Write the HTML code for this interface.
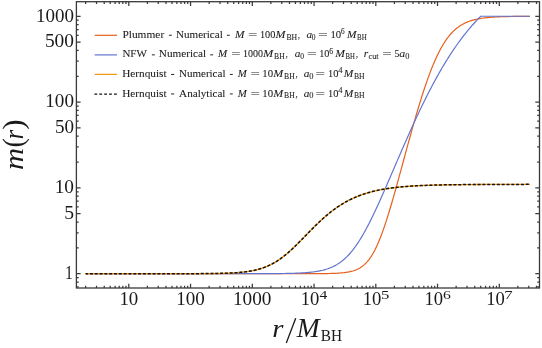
<!DOCTYPE html>
<html><head><meta charset="utf-8"><style>
html,body{margin:0;padding:0;background:#fff;}
svg{display:block}
text{font-family:"Liberation Serif",serif;fill:#1a1a1a}
.i{font-style:italic}
.s{stroke:#1a1a1a;stroke-width:0.07px}
.tk{font-size:18.4px}
</style></head><body>
<svg width="542" height="348" viewBox="0 0 542 348">
<rect width="542" height="348" fill="#fff"/>
<g fill="none" stroke-linejoin="round">
<path d="M85.64,273.70 L86.53,273.70 L87.42,273.70 L88.31,273.70 L89.20,273.70 L90.09,273.70 L90.98,273.70 L91.87,273.70 L92.76,273.70 L93.65,273.70 L94.54,273.70 L95.43,273.70 L96.32,273.70 L97.21,273.70 L98.11,273.70 L99.00,273.70 L99.89,273.70 L100.78,273.70 L101.67,273.70 L102.56,273.70 L103.45,273.70 L104.34,273.70 L105.23,273.70 L106.12,273.70 L107.01,273.70 L107.90,273.70 L108.79,273.70 L109.68,273.70 L110.57,273.70 L111.46,273.70 L112.35,273.70 L113.24,273.70 L114.13,273.70 L115.02,273.70 L115.91,273.70 L116.81,273.70 L117.70,273.70 L118.59,273.70 L119.48,273.70 L120.37,273.70 L121.26,273.70 L122.15,273.70 L123.04,273.70 L123.93,273.70 L124.82,273.70 L125.71,273.70 L126.60,273.70 L127.49,273.70 L128.38,273.70 L129.27,273.70 L130.16,273.70 L131.05,273.70 L131.94,273.70 L132.83,273.70 L133.72,273.70 L134.61,273.70 L135.51,273.70 L136.40,273.70 L137.29,273.70 L138.18,273.70 L139.07,273.70 L139.96,273.70 L140.85,273.70 L141.74,273.70 L142.63,273.70 L143.52,273.70 L144.41,273.70 L145.30,273.70 L146.19,273.70 L147.08,273.70 L147.97,273.70 L148.86,273.70 L149.75,273.70 L150.64,273.70 L151.53,273.70 L152.42,273.70 L153.31,273.70 L154.21,273.70 L155.10,273.70 L155.99,273.70 L156.88,273.70 L157.77,273.70 L158.66,273.70 L159.55,273.70 L160.44,273.70 L161.33,273.70 L162.22,273.70 L163.11,273.70 L164.00,273.70 L164.89,273.70 L165.78,273.70 L166.67,273.70 L167.56,273.70 L168.45,273.70 L169.34,273.70 L170.23,273.70 L171.12,273.70 L172.01,273.70 L172.91,273.70 L173.80,273.70 L174.69,273.70 L175.58,273.70 L176.47,273.70 L177.36,273.70 L178.25,273.70 L179.14,273.70 L180.03,273.70 L180.92,273.70 L181.81,273.70 L182.70,273.70 L183.59,273.70 L184.48,273.70 L185.37,273.70 L186.26,273.70 L187.15,273.70 L188.04,273.70 L188.93,273.70 L189.82,273.70 L190.71,273.70 L191.61,273.70 L192.50,273.70 L193.39,273.70 L194.28,273.70 L195.17,273.70 L196.06,273.70 L196.95,273.70 L197.84,273.70 L198.73,273.70 L199.62,273.70 L200.51,273.70 L201.40,273.70 L202.29,273.70 L203.18,273.70 L204.07,273.70 L204.96,273.70 L205.85,273.70 L206.74,273.70 L207.63,273.70 L208.52,273.70 L209.41,273.70 L210.31,273.70 L211.20,273.70 L212.09,273.70 L212.98,273.70 L213.87,273.70 L214.76,273.70 L215.65,273.70 L216.54,273.70 L217.43,273.70 L218.32,273.70 L219.21,273.70 L220.10,273.70 L220.99,273.70 L221.88,273.70 L222.77,273.70 L223.66,273.70 L224.55,273.70 L225.44,273.70 L226.33,273.70 L227.22,273.70 L228.11,273.70 L229.01,273.70 L229.90,273.70 L230.79,273.70 L231.68,273.70 L232.57,273.70 L233.46,273.70 L234.35,273.70 L235.24,273.70 L236.13,273.70 L237.02,273.70 L237.91,273.70 L238.80,273.70 L239.69,273.70 L240.58,273.70 L241.47,273.70 L242.36,273.70 L243.25,273.70 L244.14,273.70 L245.03,273.70 L245.92,273.70 L246.81,273.70 L247.70,273.70 L248.60,273.70 L249.49,273.70 L250.38,273.70 L251.27,273.70 L252.16,273.70 L253.05,273.70 L253.94,273.70 L254.83,273.70 L255.72,273.70 L256.61,273.70 L257.50,273.70 L258.39,273.70 L259.28,273.70 L260.17,273.70 L261.06,273.70 L261.95,273.70 L262.84,273.70 L263.73,273.70 L264.62,273.70 L265.51,273.70 L266.40,273.70 L267.30,273.70 L268.19,273.70 L269.08,273.70 L269.97,273.70 L270.86,273.70 L271.75,273.70 L272.64,273.70 L273.53,273.70 L274.42,273.70 L275.31,273.70 L276.20,273.70 L277.09,273.70 L277.98,273.70 L278.87,273.70 L279.76,273.70 L280.65,273.70 L281.54,273.70 L282.43,273.70 L283.32,273.70 L284.21,273.70 L285.10,273.70 L286.00,273.70 L286.89,273.70 L287.78,273.70 L288.67,273.70 L289.56,273.70 L290.45,273.70 L291.34,273.70 L292.23,273.70 L293.12,273.70 L294.01,273.70 L294.90,273.70 L295.79,273.70 L296.68,273.69 L297.57,273.69 L298.46,273.69 L299.35,273.69 L300.24,273.69 L301.13,273.69 L302.02,273.69 L302.91,273.69 L303.80,273.69 L304.70,273.69 L305.59,273.69 L306.48,273.68 L307.37,273.68 L308.26,273.68 L309.15,273.68 L310.04,273.68 L310.93,273.67 L311.82,273.67 L312.71,273.67 L313.60,273.66 L314.49,273.66 L315.38,273.66 L316.27,273.65 L317.16,273.65 L318.05,273.64 L318.94,273.64 L319.83,273.63 L320.72,273.62 L321.61,273.61 L322.50,273.60 L323.40,273.59 L324.29,273.58 L325.18,273.57 L326.07,273.56 L326.96,273.54 L327.85,273.53 L328.74,273.51 L329.63,273.49 L330.52,273.47 L331.41,273.44 L332.30,273.41 L333.19,273.38 L334.08,273.35 L334.97,273.32 L335.86,273.28 L336.75,273.23 L337.64,273.18 L338.53,273.13 L339.42,273.07 L340.31,273.00 L341.20,272.93 L342.10,272.85 L342.99,272.76 L343.88,272.67 L344.77,272.56 L345.66,272.44 L346.55,272.32 L347.44,272.17 L348.33,272.02 L349.22,271.85 L350.11,271.66 L351.00,271.45 L351.89,271.22 L352.78,270.97 L353.67,270.70 L354.56,270.40 L355.45,270.07 L356.34,269.71 L357.23,269.32 L358.12,268.89 L359.01,268.42 L359.90,267.91 L360.80,267.35 L361.69,266.75 L362.58,266.09 L363.47,265.38 L364.36,264.61 L365.25,263.78 L366.14,262.88 L367.03,261.92 L367.92,260.88 L368.81,259.77 L369.70,258.58 L370.59,257.30 L371.48,255.95 L372.37,254.51 L373.26,252.98 L374.15,251.37 L375.04,249.67 L375.93,247.87 L376.82,245.99 L377.71,244.02 L378.60,241.96 L379.50,239.82 L380.39,237.59 L381.28,235.28 L382.17,232.88 L383.06,230.41 L383.95,227.87 L384.84,225.26 L385.73,222.57 L386.62,219.83 L387.51,217.03 L388.40,214.17 L389.29,211.25 L390.18,208.29 L391.07,205.29 L391.96,202.24 L392.85,199.16 L393.74,196.05 L394.63,192.90 L395.52,189.73 L396.41,186.54 L397.30,183.32 L398.20,180.09 L399.09,176.84 L399.98,173.59 L400.87,170.32 L401.76,167.05 L402.65,163.78 L403.54,160.50 L404.43,157.23 L405.32,153.96 L406.21,150.70 L407.10,147.44 L407.99,144.19 L408.88,140.96 L409.77,137.74 L410.66,134.54 L411.55,131.36 L412.44,128.19 L413.33,125.05 L414.22,121.94 L415.11,118.85 L416.00,115.78 L416.90,112.75 L417.79,109.75 L418.68,106.79 L419.57,103.86 L420.46,100.96 L421.35,98.11 L422.24,95.30 L423.13,92.53 L424.02,89.81 L424.91,87.13 L425.80,84.50 L426.69,81.92 L427.58,79.39 L428.47,76.92 L429.36,74.50 L430.25,72.13 L431.14,69.82 L432.03,67.57 L432.92,65.37 L433.81,63.24 L434.70,61.16 L435.60,59.15 L436.49,57.19 L437.38,55.30 L438.27,53.47 L439.16,51.70 L440.05,49.99 L440.94,48.34 L441.83,46.75 L442.72,45.22 L443.61,43.75 L444.50,42.34 L445.39,40.98 L446.28,39.69 L447.17,38.44 L448.06,37.26 L448.95,36.12 L449.84,35.04 L450.73,34.00 L451.62,33.02 L452.51,32.08 L453.40,31.19 L454.30,30.34 L455.19,29.54 L456.08,28.77 L456.97,28.05 L457.86,27.36 L458.75,26.71 L459.64,26.10 L460.53,25.51 L461.42,24.96 L462.31,24.44 L463.20,23.95 L464.09,23.49 L464.98,23.05 L465.87,22.64 L466.76,22.25 L467.65,21.88 L468.54,21.54 L469.43,21.22 L470.32,20.91 L471.21,20.62 L472.10,20.35 L473.00,20.10 L473.89,19.86 L474.78,19.64 L475.67,19.43 L476.56,19.23 L477.45,19.04 L478.34,18.87 L479.23,18.70 L480.12,18.55 L481.01,18.41 L481.90,18.27 L482.79,18.14 L483.68,18.02 L484.57,17.91 L485.46,17.81 L486.35,17.71 L487.24,17.62 L488.13,17.53 L489.02,17.45 L489.91,17.38 L490.80,17.31 L491.69,17.24 L492.59,17.18 L493.48,17.12 L494.37,17.06 L495.26,17.01 L496.15,16.96 L497.04,16.92 L497.93,16.88 L498.82,16.84 L499.71,16.80 L500.60,16.77 L501.49,16.73 L502.38,16.70 L503.27,16.68 L504.16,16.65 L505.05,16.63 L505.94,16.60 L506.83,16.58 L507.72,16.56 L508.61,16.54 L509.50,16.52 L510.39,16.51 L511.29,16.49 L512.18,16.48 L513.07,16.46 L513.96,16.45 L514.85,16.44 L515.74,16.43 L516.63,16.42 L517.52,16.41 L518.41,16.40 L519.30,16.39 L520.19,16.38 L521.08,16.37 L521.97,16.37 L522.86,16.36 L523.75,16.35 L524.64,16.35 L525.53,16.34 L526.42,16.34 L527.31,16.33 L528.20,16.33 L529.09,16.32 L529.99,16.32" stroke="#E5611C" stroke-width="1.2"/>
<path d="M85.64,273.70 L86.53,273.70 L87.42,273.70 L88.31,273.70 L89.20,273.70 L90.09,273.70 L90.98,273.70 L91.87,273.70 L92.76,273.70 L93.65,273.70 L94.54,273.70 L95.43,273.70 L96.32,273.70 L97.21,273.70 L98.11,273.70 L99.00,273.70 L99.89,273.70 L100.78,273.70 L101.67,273.70 L102.56,273.70 L103.45,273.70 L104.34,273.70 L105.23,273.70 L106.12,273.70 L107.01,273.70 L107.90,273.70 L108.79,273.70 L109.68,273.70 L110.57,273.70 L111.46,273.70 L112.35,273.70 L113.24,273.70 L114.13,273.70 L115.02,273.70 L115.91,273.70 L116.81,273.70 L117.70,273.70 L118.59,273.70 L119.48,273.70 L120.37,273.70 L121.26,273.70 L122.15,273.70 L123.04,273.70 L123.93,273.70 L124.82,273.70 L125.71,273.70 L126.60,273.70 L127.49,273.70 L128.38,273.70 L129.27,273.70 L130.16,273.70 L131.05,273.70 L131.94,273.70 L132.83,273.70 L133.72,273.70 L134.61,273.70 L135.51,273.70 L136.40,273.70 L137.29,273.70 L138.18,273.70 L139.07,273.70 L139.96,273.70 L140.85,273.70 L141.74,273.70 L142.63,273.70 L143.52,273.70 L144.41,273.70 L145.30,273.70 L146.19,273.70 L147.08,273.70 L147.97,273.70 L148.86,273.70 L149.75,273.70 L150.64,273.70 L151.53,273.70 L152.42,273.70 L153.31,273.70 L154.21,273.70 L155.10,273.70 L155.99,273.70 L156.88,273.70 L157.77,273.70 L158.66,273.70 L159.55,273.70 L160.44,273.70 L161.33,273.70 L162.22,273.70 L163.11,273.70 L164.00,273.70 L164.89,273.70 L165.78,273.70 L166.67,273.70 L167.56,273.70 L168.45,273.70 L169.34,273.70 L170.23,273.70 L171.12,273.70 L172.01,273.70 L172.91,273.70 L173.80,273.70 L174.69,273.70 L175.58,273.70 L176.47,273.70 L177.36,273.70 L178.25,273.70 L179.14,273.70 L180.03,273.70 L180.92,273.70 L181.81,273.70 L182.70,273.70 L183.59,273.70 L184.48,273.70 L185.37,273.70 L186.26,273.70 L187.15,273.70 L188.04,273.70 L188.93,273.70 L189.82,273.70 L190.71,273.70 L191.61,273.70 L192.50,273.70 L193.39,273.70 L194.28,273.70 L195.17,273.70 L196.06,273.70 L196.95,273.70 L197.84,273.70 L198.73,273.70 L199.62,273.70 L200.51,273.70 L201.40,273.70 L202.29,273.70 L203.18,273.70 L204.07,273.70 L204.96,273.70 L205.85,273.70 L206.74,273.70 L207.63,273.70 L208.52,273.70 L209.41,273.70 L210.31,273.70 L211.20,273.70 L212.09,273.70 L212.98,273.70 L213.87,273.70 L214.76,273.70 L215.65,273.70 L216.54,273.70 L217.43,273.70 L218.32,273.70 L219.21,273.70 L220.10,273.70 L220.99,273.70 L221.88,273.70 L222.77,273.70 L223.66,273.70 L224.55,273.70 L225.44,273.70 L226.33,273.70 L227.22,273.70 L228.11,273.70 L229.01,273.70 L229.90,273.70 L230.79,273.70 L231.68,273.70 L232.57,273.70 L233.46,273.70 L234.35,273.69 L235.24,273.69 L236.13,273.69 L237.02,273.69 L237.91,273.69 L238.80,273.69 L239.69,273.69 L240.58,273.69 L241.47,273.69 L242.36,273.69 L243.25,273.69 L244.14,273.69 L245.03,273.69 L245.92,273.69 L246.81,273.69 L247.70,273.69 L248.60,273.69 L249.49,273.68 L250.38,273.68 L251.27,273.68 L252.16,273.68 L253.05,273.68 L253.94,273.68 L254.83,273.68 L255.72,273.67 L256.61,273.67 L257.50,273.67 L258.39,273.67 L259.28,273.67 L260.17,273.67 L261.06,273.66 L261.95,273.66 L262.84,273.66 L263.73,273.65 L264.62,273.65 L265.51,273.65 L266.40,273.64 L267.30,273.64 L268.19,273.64 L269.08,273.63 L269.97,273.63 L270.86,273.62 L271.75,273.62 L272.64,273.61 L273.53,273.61 L274.42,273.60 L275.31,273.59 L276.20,273.59 L277.09,273.58 L277.98,273.57 L278.87,273.56 L279.76,273.55 L280.65,273.54 L281.54,273.53 L282.43,273.52 L283.32,273.50 L284.21,273.49 L285.10,273.48 L286.00,273.46 L286.89,273.45 L287.78,273.43 L288.67,273.41 L289.56,273.39 L290.45,273.37 L291.34,273.35 L292.23,273.32 L293.12,273.30 L294.01,273.27 L294.90,273.24 L295.79,273.21 L296.68,273.18 L297.57,273.14 L298.46,273.10 L299.35,273.06 L300.24,273.02 L301.13,272.97 L302.02,272.92 L302.91,272.87 L303.80,272.81 L304.70,272.75 L305.59,272.69 L306.48,272.62 L307.37,272.55 L308.26,272.47 L309.15,272.39 L310.04,272.30 L310.93,272.21 L311.82,272.11 L312.71,272.00 L313.60,271.89 L314.49,271.77 L315.38,271.64 L316.27,271.50 L317.16,271.36 L318.05,271.21 L318.94,271.04 L319.83,270.87 L320.72,270.68 L321.61,270.48 L322.50,270.28 L323.40,270.05 L324.29,269.82 L325.18,269.57 L326.07,269.30 L326.96,269.02 L327.85,268.73 L328.74,268.41 L329.63,268.08 L330.52,267.73 L331.41,267.35 L332.30,266.96 L333.19,266.55 L334.08,266.11 L334.97,265.65 L335.86,265.16 L336.75,264.65 L337.64,264.11 L338.53,263.54 L339.42,262.95 L340.31,262.32 L341.20,261.67 L342.10,260.98 L342.99,260.26 L343.88,259.51 L344.77,258.72 L345.66,257.90 L346.55,257.05 L347.44,256.16 L348.33,255.23 L349.22,254.27 L350.11,253.27 L351.00,252.23 L351.89,251.16 L352.78,250.04 L353.67,248.89 L354.56,247.71 L355.45,246.48 L356.34,245.22 L357.23,243.92 L358.12,242.58 L359.01,241.21 L359.90,239.80 L360.80,238.36 L361.69,236.88 L362.58,235.37 L363.47,233.82 L364.36,232.24 L365.25,230.63 L366.14,229.00 L367.03,227.33 L367.92,225.63 L368.81,223.91 L369.70,222.16 L370.59,220.38 L371.48,218.59 L372.37,216.76 L373.26,214.92 L374.15,213.06 L375.04,211.17 L375.93,209.27 L376.82,207.35 L377.71,205.42 L378.60,203.47 L379.50,201.50 L380.39,199.53 L381.28,197.54 L382.17,195.53 L383.06,193.52 L383.95,191.50 L384.84,189.47 L385.73,187.44 L386.62,185.39 L387.51,183.35 L388.40,181.29 L389.29,179.23 L390.18,177.17 L391.07,175.11 L391.96,173.04 L392.85,170.97 L393.74,168.90 L394.63,166.83 L395.52,164.77 L396.41,162.70 L397.30,160.63 L398.20,158.57 L399.09,156.51 L399.98,154.45 L400.87,152.40 L401.76,150.35 L402.65,148.31 L403.54,146.27 L404.43,144.23 L405.32,142.21 L406.21,140.19 L407.10,138.17 L407.99,136.17 L408.88,134.17 L409.77,132.18 L410.66,130.20 L411.55,128.23 L412.44,126.26 L413.33,124.31 L414.22,122.36 L415.11,120.43 L416.00,118.51 L416.90,116.59 L417.79,114.69 L418.68,112.80 L419.57,110.92 L420.46,109.06 L421.35,107.20 L422.24,105.36 L423.13,103.53 L424.02,101.71 L424.91,99.91 L425.80,98.12 L426.69,96.34 L427.58,94.57 L428.47,92.82 L429.36,91.09 L430.25,89.37 L431.14,87.66 L432.03,85.97 L432.92,84.29 L433.81,82.62 L434.70,80.97 L435.60,79.34 L436.49,77.72 L437.38,76.12 L438.27,74.53 L439.16,72.95 L440.05,71.39 L440.94,69.85 L441.83,68.32 L442.72,66.81 L443.61,65.32 L444.50,63.84 L445.39,62.37 L446.28,60.92 L447.17,59.49 L448.06,58.07 L448.95,56.67 L449.84,55.28 L450.73,53.91 L451.62,52.55 L452.51,51.21 L453.40,49.89 L454.30,48.58 L455.19,47.28 L456.08,46.00 L456.97,44.74 L457.86,43.49 L458.75,42.26 L459.64,41.04 L460.53,39.84 L461.42,38.65 L462.31,37.47 L463.20,36.31 L464.09,35.17 L464.98,34.04 L465.87,32.92 L466.76,31.82 L467.65,30.73 L468.54,29.65 L469.43,28.59 L470.32,27.54 L471.21,26.51 L472.10,25.48 L473.00,24.48 L473.89,23.48 L474.78,22.50 L475.67,21.53 L476.56,20.57 L477.45,19.62 L478.34,18.69 L479.23,17.77 L480.12,16.86 L480.71,16.26 L481.01,16.26 L481.90,16.26 L482.79,16.26 L483.68,16.26 L484.57,16.26 L485.46,16.26 L486.35,16.26 L487.24,16.26 L488.13,16.26 L489.02,16.26 L489.91,16.26 L490.80,16.26 L491.69,16.26 L492.59,16.26 L493.48,16.26 L494.37,16.26 L495.26,16.26 L496.15,16.26 L497.04,16.26 L497.93,16.26 L498.82,16.26 L499.71,16.26 L500.60,16.26 L501.49,16.26 L502.38,16.26 L503.27,16.26 L504.16,16.26 L505.05,16.26 L505.94,16.26 L506.83,16.26 L507.72,16.26 L508.61,16.26 L509.50,16.26 L510.39,16.26 L511.29,16.26 L512.18,16.26 L513.07,16.26 L513.96,16.26 L514.85,16.26 L515.74,16.26 L516.63,16.26 L517.52,16.26 L518.41,16.26 L519.30,16.26 L520.19,16.26 L521.08,16.26 L521.97,16.26 L522.86,16.26 L523.75,16.26 L524.64,16.26 L525.53,16.26 L526.42,16.26 L527.31,16.26 L528.20,16.26 L529.09,16.26 L529.99,16.26" stroke="#6475CF" stroke-width="1.2"/>
<path d="M85.64,273.70 L86.53,273.70 L87.42,273.70 L88.31,273.70 L89.20,273.70 L90.09,273.70 L90.98,273.70 L91.87,273.70 L92.76,273.70 L93.65,273.70 L94.54,273.70 L95.43,273.70 L96.32,273.70 L97.21,273.70 L98.11,273.70 L99.00,273.70 L99.89,273.70 L100.78,273.70 L101.67,273.70 L102.56,273.70 L103.45,273.70 L104.34,273.70 L105.23,273.70 L106.12,273.70 L107.01,273.70 L107.90,273.70 L108.79,273.70 L109.68,273.70 L110.57,273.70 L111.46,273.70 L112.35,273.70 L113.24,273.70 L114.13,273.70 L115.02,273.70 L115.91,273.70 L116.81,273.70 L117.70,273.70 L118.59,273.70 L119.48,273.70 L120.37,273.70 L121.26,273.70 L122.15,273.70 L123.04,273.70 L123.93,273.70 L124.82,273.70 L125.71,273.70 L126.60,273.70 L127.49,273.70 L128.38,273.70 L129.27,273.70 L130.16,273.70 L131.05,273.70 L131.94,273.70 L132.83,273.70 L133.72,273.70 L134.61,273.70 L135.51,273.70 L136.40,273.70 L137.29,273.70 L138.18,273.70 L139.07,273.70 L139.96,273.70 L140.85,273.70 L141.74,273.70 L142.63,273.70 L143.52,273.70 L144.41,273.70 L145.30,273.70 L146.19,273.70 L147.08,273.70 L147.97,273.70 L148.86,273.70 L149.75,273.70 L150.64,273.70 L151.53,273.70 L152.42,273.70 L153.31,273.70 L154.21,273.70 L155.10,273.70 L155.99,273.70 L156.88,273.70 L157.77,273.70 L158.66,273.70 L159.55,273.70 L160.44,273.70 L161.33,273.70 L162.22,273.70 L163.11,273.70 L164.00,273.69 L164.89,273.69 L165.78,273.69 L166.67,273.69 L167.56,273.69 L168.45,273.69 L169.34,273.69 L170.23,273.69 L171.12,273.69 L172.01,273.69 L172.91,273.69 L173.80,273.69 L174.69,273.69 L175.58,273.69 L176.47,273.69 L177.36,273.69 L178.25,273.69 L179.14,273.68 L180.03,273.68 L180.92,273.68 L181.81,273.68 L182.70,273.68 L183.59,273.68 L184.48,273.68 L185.37,273.68 L186.26,273.67 L187.15,273.67 L188.04,273.67 L188.93,273.67 L189.82,273.67 L190.71,273.66 L191.61,273.66 L192.50,273.66 L193.39,273.65 L194.28,273.65 L195.17,273.65 L196.06,273.65 L196.95,273.64 L197.84,273.64 L198.73,273.63 L199.62,273.63 L200.51,273.62 L201.40,273.62 L202.29,273.61 L203.18,273.61 L204.07,273.60 L204.96,273.59 L205.85,273.59 L206.74,273.58 L207.63,273.57 L208.52,273.56 L209.41,273.55 L210.31,273.54 L211.20,273.53 L212.09,273.52 L212.98,273.51 L213.87,273.50 L214.76,273.48 L215.65,273.47 L216.54,273.46 L217.43,273.44 L218.32,273.42 L219.21,273.40 L220.10,273.38 L220.99,273.36 L221.88,273.34 L222.77,273.32 L223.66,273.29 L224.55,273.26 L225.44,273.24 L226.33,273.20 L227.22,273.17 L228.11,273.14 L229.01,273.10 L229.90,273.06 L230.79,273.02 L231.68,272.98 L232.57,272.93 L233.46,272.88 L234.35,272.83 L235.24,272.77 L236.13,272.71 L237.02,272.65 L237.91,272.58 L238.80,272.51 L239.69,272.43 L240.58,272.35 L241.47,272.27 L242.36,272.18 L243.25,272.08 L244.14,271.98 L245.03,271.87 L245.92,271.76 L246.81,271.64 L247.70,271.52 L248.60,271.38 L249.49,271.24 L250.38,271.09 L251.27,270.93 L252.16,270.77 L253.05,270.59 L253.94,270.41 L254.83,270.22 L255.72,270.01 L256.61,269.80 L257.50,269.57 L258.39,269.33 L259.28,269.08 L260.17,268.82 L261.06,268.55 L261.95,268.26 L262.84,267.96 L263.73,267.65 L264.62,267.32 L265.51,266.97 L266.40,266.61 L267.30,266.24 L268.19,265.85 L269.08,265.44 L269.97,265.02 L270.86,264.58 L271.75,264.13 L272.64,263.65 L273.53,263.16 L274.42,262.65 L275.31,262.13 L276.20,261.58 L277.09,261.02 L277.98,260.44 L278.87,259.85 L279.76,259.23 L280.65,258.60 L281.54,257.95 L282.43,257.29 L283.32,256.61 L284.21,255.91 L285.10,255.19 L286.00,254.46 L286.89,253.71 L287.78,252.95 L288.67,252.18 L289.56,251.39 L290.45,250.59 L291.34,249.77 L292.23,248.95 L293.12,248.11 L294.01,247.26 L294.90,246.40 L295.79,245.54 L296.68,244.66 L297.57,243.78 L298.46,242.89 L299.35,241.99 L300.24,241.09 L301.13,240.19 L302.02,239.28 L302.91,238.36 L303.80,237.45 L304.70,236.53 L305.59,235.62 L306.48,234.70 L307.37,233.79 L308.26,232.87 L309.15,231.96 L310.04,231.06 L310.93,230.15 L311.82,229.25 L312.71,228.36 L313.60,227.47 L314.49,226.58 L315.38,225.71 L316.27,224.84 L317.16,223.97 L318.05,223.12 L318.94,222.27 L319.83,221.43 L320.72,220.61 L321.61,219.79 L322.50,218.98 L323.40,218.18 L324.29,217.39 L325.18,216.62 L326.07,215.85 L326.96,215.10 L327.85,214.35 L328.74,213.62 L329.63,212.90 L330.52,212.19 L331.41,211.50 L332.30,210.81 L333.19,210.14 L334.08,209.48 L334.97,208.83 L335.86,208.20 L336.75,207.57 L337.64,206.96 L338.53,206.37 L339.42,205.78 L340.31,205.21 L341.20,204.64 L342.10,204.09 L342.99,203.55 L343.88,203.03 L344.77,202.51 L345.66,202.01 L346.55,201.52 L347.44,201.04 L348.33,200.57 L349.22,200.11 L350.11,199.67 L351.00,199.23 L351.89,198.80 L352.78,198.39 L353.67,197.98 L354.56,197.59 L355.45,197.21 L356.34,196.83 L357.23,196.47 L358.12,196.11 L359.01,195.76 L359.90,195.43 L360.80,195.10 L361.69,194.78 L362.58,194.47 L363.47,194.17 L364.36,193.87 L365.25,193.59 L366.14,193.31 L367.03,193.04 L367.92,192.77 L368.81,192.52 L369.70,192.27 L370.59,192.03 L371.48,191.79 L372.37,191.56 L373.26,191.34 L374.15,191.13 L375.04,190.92 L375.93,190.72 L376.82,190.52 L377.71,190.33 L378.60,190.14 L379.50,189.96 L380.39,189.79 L381.28,189.62 L382.17,189.45 L383.06,189.29 L383.95,189.14 L384.84,188.99 L385.73,188.84 L386.62,188.70 L387.51,188.57 L388.40,188.43 L389.29,188.30 L390.18,188.18 L391.07,188.06 L391.96,187.94 L392.85,187.83 L393.74,187.72 L394.63,187.61 L395.52,187.51 L396.41,187.41 L397.30,187.31 L398.20,187.21 L399.09,187.12 L399.98,187.03 L400.87,186.95 L401.76,186.87 L402.65,186.79 L403.54,186.71 L404.43,186.63 L405.32,186.56 L406.21,186.49 L407.10,186.42 L407.99,186.35 L408.88,186.29 L409.77,186.23 L410.66,186.17 L411.55,186.11 L412.44,186.05 L413.33,186.00 L414.22,185.94 L415.11,185.89 L416.00,185.84 L416.90,185.79 L417.79,185.75 L418.68,185.70 L419.57,185.66 L420.46,185.62 L421.35,185.57 L422.24,185.54 L423.13,185.50 L424.02,185.46 L424.91,185.42 L425.80,185.39 L426.69,185.36 L427.58,185.32 L428.47,185.29 L429.36,185.26 L430.25,185.23 L431.14,185.20 L432.03,185.17 L432.92,185.15 L433.81,185.12 L434.70,185.10 L435.60,185.07 L436.49,185.05 L437.38,185.03 L438.27,185.00 L439.16,184.98 L440.05,184.96 L440.94,184.94 L441.83,184.92 L442.72,184.90 L443.61,184.89 L444.50,184.87 L445.39,184.85 L446.28,184.84 L447.17,184.82 L448.06,184.80 L448.95,184.79 L449.84,184.78 L450.73,184.76 L451.62,184.75 L452.51,184.73 L453.40,184.72 L454.30,184.71 L455.19,184.70 L456.08,184.69 L456.97,184.68 L457.86,184.67 L458.75,184.66 L459.64,184.65 L460.53,184.64 L461.42,184.63 L462.31,184.62 L463.20,184.61 L464.09,184.60 L464.98,184.59 L465.87,184.58 L466.76,184.58 L467.65,184.57 L468.54,184.56 L469.43,184.55 L470.32,184.55 L471.21,184.54 L472.10,184.53 L473.00,184.53 L473.89,184.52 L474.78,184.52 L475.67,184.51 L476.56,184.51 L477.45,184.50 L478.34,184.50 L479.23,184.49 L480.12,184.49 L481.01,184.48 L481.90,184.48 L482.79,184.47 L483.68,184.47 L484.57,184.47 L485.46,184.46 L486.35,184.46 L487.24,184.45 L488.13,184.45 L489.02,184.45 L489.91,184.44 L490.80,184.44 L491.69,184.44 L492.59,184.44 L493.48,184.43 L494.37,184.43 L495.26,184.43 L496.15,184.42 L497.04,184.42 L497.93,184.42 L498.82,184.42 L499.71,184.42 L500.60,184.41 L501.49,184.41 L502.38,184.41 L503.27,184.41 L504.16,184.40 L505.05,184.40 L505.94,184.40 L506.83,184.40 L507.72,184.40 L508.61,184.40 L509.50,184.39 L510.39,184.39 L511.29,184.39 L512.18,184.39 L513.07,184.39 L513.96,184.39 L514.85,184.39 L515.74,184.39 L516.63,184.38 L517.52,184.38 L518.41,184.38 L519.30,184.38 L520.19,184.38 L521.08,184.38 L521.97,184.38 L522.86,184.38 L523.75,184.38 L524.64,184.37 L525.53,184.37 L526.42,184.37 L527.31,184.37 L528.20,184.37 L529.09,184.37 L529.99,184.37" stroke="#F0960F" stroke-width="1.3"/>
<path d="M85.64,273.70 L86.53,273.70 L87.42,273.70 L88.31,273.70 L89.20,273.70 L90.09,273.70 L90.98,273.70 L91.87,273.70 L92.76,273.70 L93.65,273.70 L94.54,273.70 L95.43,273.70 L96.32,273.70 L97.21,273.70 L98.11,273.70 L99.00,273.70 L99.89,273.70 L100.78,273.70 L101.67,273.70 L102.56,273.70 L103.45,273.70 L104.34,273.70 L105.23,273.70 L106.12,273.70 L107.01,273.70 L107.90,273.70 L108.79,273.70 L109.68,273.70 L110.57,273.70 L111.46,273.70 L112.35,273.70 L113.24,273.70 L114.13,273.70 L115.02,273.70 L115.91,273.70 L116.81,273.70 L117.70,273.70 L118.59,273.70 L119.48,273.70 L120.37,273.70 L121.26,273.70 L122.15,273.70 L123.04,273.70 L123.93,273.70 L124.82,273.70 L125.71,273.70 L126.60,273.70 L127.49,273.70 L128.38,273.70 L129.27,273.70 L130.16,273.70 L131.05,273.70 L131.94,273.70 L132.83,273.70 L133.72,273.70 L134.61,273.70 L135.51,273.70 L136.40,273.70 L137.29,273.70 L138.18,273.70 L139.07,273.70 L139.96,273.70 L140.85,273.70 L141.74,273.70 L142.63,273.70 L143.52,273.70 L144.41,273.70 L145.30,273.70 L146.19,273.70 L147.08,273.70 L147.97,273.70 L148.86,273.70 L149.75,273.70 L150.64,273.70 L151.53,273.70 L152.42,273.70 L153.31,273.70 L154.21,273.70 L155.10,273.70 L155.99,273.70 L156.88,273.70 L157.77,273.70 L158.66,273.70 L159.55,273.70 L160.44,273.70 L161.33,273.70 L162.22,273.70 L163.11,273.70 L164.00,273.69 L164.89,273.69 L165.78,273.69 L166.67,273.69 L167.56,273.69 L168.45,273.69 L169.34,273.69 L170.23,273.69 L171.12,273.69 L172.01,273.69 L172.91,273.69 L173.80,273.69 L174.69,273.69 L175.58,273.69 L176.47,273.69 L177.36,273.69 L178.25,273.69 L179.14,273.68 L180.03,273.68 L180.92,273.68 L181.81,273.68 L182.70,273.68 L183.59,273.68 L184.48,273.68 L185.37,273.68 L186.26,273.67 L187.15,273.67 L188.04,273.67 L188.93,273.67 L189.82,273.67 L190.71,273.66 L191.61,273.66 L192.50,273.66 L193.39,273.65 L194.28,273.65 L195.17,273.65 L196.06,273.65 L196.95,273.64 L197.84,273.64 L198.73,273.63 L199.62,273.63 L200.51,273.62 L201.40,273.62 L202.29,273.61 L203.18,273.61 L204.07,273.60 L204.96,273.59 L205.85,273.59 L206.74,273.58 L207.63,273.57 L208.52,273.56 L209.41,273.55 L210.31,273.54 L211.20,273.53 L212.09,273.52 L212.98,273.51 L213.87,273.50 L214.76,273.48 L215.65,273.47 L216.54,273.46 L217.43,273.44 L218.32,273.42 L219.21,273.40 L220.10,273.38 L220.99,273.36 L221.88,273.34 L222.77,273.32 L223.66,273.29 L224.55,273.26 L225.44,273.24 L226.33,273.20 L227.22,273.17 L228.11,273.14 L229.01,273.10 L229.90,273.06 L230.79,273.02 L231.68,272.98 L232.57,272.93 L233.46,272.88 L234.35,272.83 L235.24,272.77 L236.13,272.71 L237.02,272.65 L237.91,272.58 L238.80,272.51 L239.69,272.43 L240.58,272.35 L241.47,272.27 L242.36,272.18 L243.25,272.08 L244.14,271.98 L245.03,271.87 L245.92,271.76 L246.81,271.64 L247.70,271.52 L248.60,271.38 L249.49,271.24 L250.38,271.09 L251.27,270.93 L252.16,270.77 L253.05,270.59 L253.94,270.41 L254.83,270.22 L255.72,270.01 L256.61,269.80 L257.50,269.57 L258.39,269.33 L259.28,269.08 L260.17,268.82 L261.06,268.55 L261.95,268.26 L262.84,267.96 L263.73,267.65 L264.62,267.32 L265.51,266.97 L266.40,266.61 L267.30,266.24 L268.19,265.85 L269.08,265.44 L269.97,265.02 L270.86,264.58 L271.75,264.13 L272.64,263.65 L273.53,263.16 L274.42,262.65 L275.31,262.13 L276.20,261.58 L277.09,261.02 L277.98,260.44 L278.87,259.85 L279.76,259.23 L280.65,258.60 L281.54,257.95 L282.43,257.29 L283.32,256.61 L284.21,255.91 L285.10,255.19 L286.00,254.46 L286.89,253.71 L287.78,252.95 L288.67,252.18 L289.56,251.39 L290.45,250.59 L291.34,249.77 L292.23,248.95 L293.12,248.11 L294.01,247.26 L294.90,246.40 L295.79,245.54 L296.68,244.66 L297.57,243.78 L298.46,242.89 L299.35,241.99 L300.24,241.09 L301.13,240.19 L302.02,239.28 L302.91,238.36 L303.80,237.45 L304.70,236.53 L305.59,235.62 L306.48,234.70 L307.37,233.79 L308.26,232.87 L309.15,231.96 L310.04,231.06 L310.93,230.15 L311.82,229.25 L312.71,228.36 L313.60,227.47 L314.49,226.58 L315.38,225.71 L316.27,224.84 L317.16,223.97 L318.05,223.12 L318.94,222.27 L319.83,221.43 L320.72,220.61 L321.61,219.79 L322.50,218.98 L323.40,218.18 L324.29,217.39 L325.18,216.62 L326.07,215.85 L326.96,215.10 L327.85,214.35 L328.74,213.62 L329.63,212.90 L330.52,212.19 L331.41,211.50 L332.30,210.81 L333.19,210.14 L334.08,209.48 L334.97,208.83 L335.86,208.20 L336.75,207.57 L337.64,206.96 L338.53,206.37 L339.42,205.78 L340.31,205.21 L341.20,204.64 L342.10,204.09 L342.99,203.55 L343.88,203.03 L344.77,202.51 L345.66,202.01 L346.55,201.52 L347.44,201.04 L348.33,200.57 L349.22,200.11 L350.11,199.67 L351.00,199.23 L351.89,198.80 L352.78,198.39 L353.67,197.98 L354.56,197.59 L355.45,197.21 L356.34,196.83 L357.23,196.47 L358.12,196.11 L359.01,195.76 L359.90,195.43 L360.80,195.10 L361.69,194.78 L362.58,194.47 L363.47,194.17 L364.36,193.87 L365.25,193.59 L366.14,193.31 L367.03,193.04 L367.92,192.77 L368.81,192.52 L369.70,192.27 L370.59,192.03 L371.48,191.79 L372.37,191.56 L373.26,191.34 L374.15,191.13 L375.04,190.92 L375.93,190.72 L376.82,190.52 L377.71,190.33 L378.60,190.14 L379.50,189.96 L380.39,189.79 L381.28,189.62 L382.17,189.45 L383.06,189.29 L383.95,189.14 L384.84,188.99 L385.73,188.84 L386.62,188.70 L387.51,188.57 L388.40,188.43 L389.29,188.30 L390.18,188.18 L391.07,188.06 L391.96,187.94 L392.85,187.83 L393.74,187.72 L394.63,187.61 L395.52,187.51 L396.41,187.41 L397.30,187.31 L398.20,187.21 L399.09,187.12 L399.98,187.03 L400.87,186.95 L401.76,186.87 L402.65,186.79 L403.54,186.71 L404.43,186.63 L405.32,186.56 L406.21,186.49 L407.10,186.42 L407.99,186.35 L408.88,186.29 L409.77,186.23 L410.66,186.17 L411.55,186.11 L412.44,186.05 L413.33,186.00 L414.22,185.94 L415.11,185.89 L416.00,185.84 L416.90,185.79 L417.79,185.75 L418.68,185.70 L419.57,185.66 L420.46,185.62 L421.35,185.57 L422.24,185.54 L423.13,185.50 L424.02,185.46 L424.91,185.42 L425.80,185.39 L426.69,185.36 L427.58,185.32 L428.47,185.29 L429.36,185.26 L430.25,185.23 L431.14,185.20 L432.03,185.17 L432.92,185.15 L433.81,185.12 L434.70,185.10 L435.60,185.07 L436.49,185.05 L437.38,185.03 L438.27,185.00 L439.16,184.98 L440.05,184.96 L440.94,184.94 L441.83,184.92 L442.72,184.90 L443.61,184.89 L444.50,184.87 L445.39,184.85 L446.28,184.84 L447.17,184.82 L448.06,184.80 L448.95,184.79 L449.84,184.78 L450.73,184.76 L451.62,184.75 L452.51,184.73 L453.40,184.72 L454.30,184.71 L455.19,184.70 L456.08,184.69 L456.97,184.68 L457.86,184.67 L458.75,184.66 L459.64,184.65 L460.53,184.64 L461.42,184.63 L462.31,184.62 L463.20,184.61 L464.09,184.60 L464.98,184.59 L465.87,184.58 L466.76,184.58 L467.65,184.57 L468.54,184.56 L469.43,184.55 L470.32,184.55 L471.21,184.54 L472.10,184.53 L473.00,184.53 L473.89,184.52 L474.78,184.52 L475.67,184.51 L476.56,184.51 L477.45,184.50 L478.34,184.50 L479.23,184.49 L480.12,184.49 L481.01,184.48 L481.90,184.48 L482.79,184.47 L483.68,184.47 L484.57,184.47 L485.46,184.46 L486.35,184.46 L487.24,184.45 L488.13,184.45 L489.02,184.45 L489.91,184.44 L490.80,184.44 L491.69,184.44 L492.59,184.44 L493.48,184.43 L494.37,184.43 L495.26,184.43 L496.15,184.42 L497.04,184.42 L497.93,184.42 L498.82,184.42 L499.71,184.42 L500.60,184.41 L501.49,184.41 L502.38,184.41 L503.27,184.41 L504.16,184.40 L505.05,184.40 L505.94,184.40 L506.83,184.40 L507.72,184.40 L508.61,184.40 L509.50,184.39 L510.39,184.39 L511.29,184.39 L512.18,184.39 L513.07,184.39 L513.96,184.39 L514.85,184.39 L515.74,184.39 L516.63,184.38 L517.52,184.38 L518.41,184.38 L519.30,184.38 L520.19,184.38 L521.08,184.38 L521.97,184.38 L522.86,184.38 L523.75,184.38 L524.64,184.37 L525.53,184.37 L526.42,184.37 L527.31,184.37 L528.20,184.37 L529.09,184.37 L529.99,184.37" stroke="#111" stroke-width="1.5" stroke-dasharray="3 1.82" stroke-dashoffset="0.55"/>
</g>
<rect x="76.4" y="1.7" width="463.1" height="286.3" fill="none" stroke="#3a3a3a" stroke-width="1.3"/>
<path d="M85.64,288.0v-2.3M85.64,1.7v2.3M96.51,288.0v-2.3M96.51,1.7v2.3M104.23,288.0v-2.3M104.23,1.7v2.3M110.21,288.0v-2.3M110.21,1.7v2.3M115.10,288.0v-2.3M115.10,1.7v2.3M119.23,288.0v-2.3M119.23,1.7v2.3M122.82,288.0v-2.3M122.82,1.7v2.3M125.97,288.0v-2.3M125.97,1.7v2.3M128.80,288.0v-4.2M128.80,1.7v4.2M147.39,288.0v-2.3M147.39,1.7v2.3M158.26,288.0v-2.3M158.26,1.7v2.3M165.98,288.0v-2.3M165.98,1.7v2.3M171.96,288.0v-2.3M171.96,1.7v2.3M176.85,288.0v-2.3M176.85,1.7v2.3M180.98,288.0v-2.3M180.98,1.7v2.3M184.57,288.0v-2.3M184.57,1.7v2.3M187.72,288.0v-2.3M187.72,1.7v2.3M190.55,288.0v-4.2M190.55,1.7v4.2M209.14,288.0v-2.3M209.14,1.7v2.3M220.01,288.0v-2.3M220.01,1.7v2.3M227.73,288.0v-2.3M227.73,1.7v2.3M233.71,288.0v-2.3M233.71,1.7v2.3M238.60,288.0v-2.3M238.60,1.7v2.3M242.73,288.0v-2.3M242.73,1.7v2.3M246.32,288.0v-2.3M246.32,1.7v2.3M249.47,288.0v-2.3M249.47,1.7v2.3M252.30,288.0v-4.2M252.30,1.7v4.2M270.89,288.0v-2.3M270.89,1.7v2.3M281.76,288.0v-2.3M281.76,1.7v2.3M289.48,288.0v-2.3M289.48,1.7v2.3M295.46,288.0v-2.3M295.46,1.7v2.3M300.35,288.0v-2.3M300.35,1.7v2.3M304.48,288.0v-2.3M304.48,1.7v2.3M308.07,288.0v-2.3M308.07,1.7v2.3M311.22,288.0v-2.3M311.22,1.7v2.3M314.05,288.0v-4.2M314.05,1.7v4.2M332.64,288.0v-2.3M332.64,1.7v2.3M343.51,288.0v-2.3M343.51,1.7v2.3M351.23,288.0v-2.3M351.23,1.7v2.3M357.21,288.0v-2.3M357.21,1.7v2.3M362.10,288.0v-2.3M362.10,1.7v2.3M366.23,288.0v-2.3M366.23,1.7v2.3M369.82,288.0v-2.3M369.82,1.7v2.3M372.97,288.0v-2.3M372.97,1.7v2.3M375.80,288.0v-4.2M375.80,1.7v4.2M394.39,288.0v-2.3M394.39,1.7v2.3M405.26,288.0v-2.3M405.26,1.7v2.3M412.98,288.0v-2.3M412.98,1.7v2.3M418.96,288.0v-2.3M418.96,1.7v2.3M423.85,288.0v-2.3M423.85,1.7v2.3M427.98,288.0v-2.3M427.98,1.7v2.3M431.57,288.0v-2.3M431.57,1.7v2.3M434.72,288.0v-2.3M434.72,1.7v2.3M437.55,288.0v-4.2M437.55,1.7v4.2M456.14,288.0v-2.3M456.14,1.7v2.3M467.01,288.0v-2.3M467.01,1.7v2.3M474.73,288.0v-2.3M474.73,1.7v2.3M480.71,288.0v-2.3M480.71,1.7v2.3M485.60,288.0v-2.3M485.60,1.7v2.3M489.73,288.0v-2.3M489.73,1.7v2.3M493.32,288.0v-2.3M493.32,1.7v2.3M496.47,288.0v-2.3M496.47,1.7v2.3M499.30,288.0v-4.2M499.30,1.7v4.2M517.89,288.0v-2.3M517.89,1.7v2.3M528.76,288.0v-2.3M528.76,1.7v2.3M536.48,288.0v-2.3M536.48,1.7v2.3M76.4,286.99h2.3M539.5,286.99h-2.3M76.4,282.01h2.3M539.5,282.01h-2.3M76.4,277.63h2.3M539.5,277.63h-2.3M76.4,273.70h4.2M539.5,273.70h-4.2M76.4,247.87h2.3M539.5,247.87h-2.3M76.4,232.76h2.3M539.5,232.76h-2.3M76.4,222.04h2.3M539.5,222.04h-2.3M76.4,213.73h4.2M539.5,213.73h-4.2M76.4,206.93h2.3M539.5,206.93h-2.3M76.4,201.19h2.3M539.5,201.19h-2.3M76.4,196.21h2.3M539.5,196.21h-2.3M76.4,191.83h2.3M539.5,191.83h-2.3M76.4,187.90h4.2M539.5,187.90h-4.2M76.4,162.07h2.3M539.5,162.07h-2.3M76.4,146.96h2.3M539.5,146.96h-2.3M76.4,136.24h2.3M539.5,136.24h-2.3M76.4,127.93h4.2M539.5,127.93h-4.2M76.4,121.13h2.3M539.5,121.13h-2.3M76.4,115.39h2.3M539.5,115.39h-2.3M76.4,110.41h2.3M539.5,110.41h-2.3M76.4,106.03h2.3M539.5,106.03h-2.3M76.4,102.10h4.2M539.5,102.10h-4.2M76.4,76.27h2.3M539.5,76.27h-2.3M76.4,61.16h2.3M539.5,61.16h-2.3M76.4,50.44h2.3M539.5,50.44h-2.3M76.4,42.13h4.2M539.5,42.13h-4.2M76.4,35.33h2.3M539.5,35.33h-2.3M76.4,29.59h2.3M539.5,29.59h-2.3M76.4,24.61h2.3M539.5,24.61h-2.3M76.4,20.23h2.3M539.5,20.23h-2.3M76.4,16.30h4.2M539.5,16.30h-4.2" stroke="#3a3a3a" stroke-width="1.25" fill="none"/>
<g fill="none">
<path d="M94.7,35.3H117" stroke="#E5611C" stroke-width="1.2"/>
<path d="M94.7,54.9H117" stroke="#6475CF" stroke-width="1.2"/>
<path d="M94.7,74.4H117" stroke="#F0960F" stroke-width="1.25"/>
<path d="M94.4,94.1H117" stroke="#111" stroke-width="1.15" stroke-dasharray="2.8 2.1"/>
</g>
<g opacity="0.999"><text class="s" font-size="10.7" transform="translate(122.42,37.80) scale(1.066,1)">Plummer</text>
<path d="M168.90,35.25H171.80" stroke="#1a1a1a" stroke-width="0.95" fill="none"/>
<text class="s" font-size="10.7" transform="translate(176.03,37.80) scale(1.037,1)">Numerical</text>
<path d="M226.90,35.25H229.80" stroke="#1a1a1a" stroke-width="0.95" fill="none"/>
<text class="i s" font-size="10.7" transform="translate(235.08,37.80) scale(1.062,1)">M</text>
<text class="s" font-size="10.7" transform="translate(248.12,37.80) scale(1.555,1)">=</text>
<text class="s" font-size="10.7" transform="translate(259.90,37.80) scale(0.961,1)">100</text>
<text class="i s" font-size="10.7" transform="translate(275.59,37.80) scale(1.114,1)">M</text>
<text class="s" font-size="7.5" transform="translate(286.38,39.60) scale(1.034,1)">BH</text>
<text class="s" font-size="10.7" transform="translate(297.72,37.80) scale(0.837,1)">,</text>
<text class="i s" font-size="10.7" transform="translate(306.52,37.80) scale(1.052,1)">a</text>
<text class="s" font-size="7.5" transform="translate(311.86,39.60) scale(1.006,1)">0</text>
<text class="s" font-size="10.7" transform="translate(317.99,37.80) scale(1.615,1)">=</text>
<text class="s" font-size="10.7" transform="translate(330.46,37.80) scale(1.007,1)">10</text>
<text class="s" font-size="7.5" transform="translate(341.07,34.10) scale(0.971,1)">6</text>
<text class="i s" font-size="10.7" transform="translate(346.88,37.80) scale(1.062,1)">M</text>
<text class="s" font-size="7.5" transform="translate(357.09,39.60) scale(0.935,1)">BH</text>
<text class="s" font-size="10.7" transform="translate(122.43,57.40) scale(1.025,1)">NFW</text>
<path d="M151.90,54.85H154.80" stroke="#1a1a1a" stroke-width="0.95" fill="none"/>
<text class="s" font-size="10.7" transform="translate(158.82,57.40) scale(1.048,1)">Numerical</text>
<path d="M210.20,54.85H213.10" stroke="#1a1a1a" stroke-width="0.95" fill="none"/>
<text class="i s" font-size="10.7" transform="translate(218.07,57.40) scale(1.031,1)">M</text>
<text class="s" font-size="10.7" transform="translate(231.13,57.40) scale(1.535,1)">=</text>
<text class="s" font-size="10.7" transform="translate(242.92,57.40) scale(0.934,1)">1000</text>
<text class="i s" font-size="10.7" transform="translate(263.09,57.40) scale(1.145,1)">M</text>
<text class="s" font-size="7.5" transform="translate(274.08,59.20) scale(1.034,1)">BH</text>
<text class="s" font-size="10.7" transform="translate(285.50,57.40) scale(0.897,1)">,</text>
<text class="i s" font-size="10.7" transform="translate(294.72,57.40) scale(1.052,1)">a</text>
<text class="s" font-size="7.5" transform="translate(300.26,59.20) scale(1.006,1)">0</text>
<text class="s" font-size="10.7" transform="translate(306.89,57.40) scale(1.615,1)">=</text>
<text class="s" font-size="10.7" transform="translate(319.20,57.40) scale(0.955,1)">10</text>
<text class="s" font-size="7.5" transform="translate(329.36,53.70) scale(1.030,1)">6</text>
<text class="i s" font-size="10.7" transform="translate(335.18,57.40) scale(1.083,1)">M</text>
<text class="s" font-size="7.5" transform="translate(345.59,59.20) scale(0.906,1)">BH</text>
<text class="s" font-size="10.7" transform="translate(355.80,57.40) scale(0.897,1)">,</text>
<text class="i s" font-size="10.7" transform="translate(363.64,57.40) scale(1.072,1)">r</text>
<text class="s" font-size="7.5" transform="translate(368.54,59.20) scale(1.106,1)">cut</text>
<text class="s" font-size="10.7" transform="translate(382.32,57.40) scale(1.555,1)">=</text>
<text class="s" font-size="10.7" transform="translate(394.44,57.40) scale(0.908,1)">5</text>
<text class="i s" font-size="10.7" transform="translate(399.31,57.40) scale(1.114,1)">a</text>
<text class="s" font-size="7.5" transform="translate(405.14,59.20) scale(1.128,1)">0</text>
<text class="s" font-size="10.7" transform="translate(122.22,77.00) scale(1.053,1)">Hernquist</text>
<path d="M171.10,74.45H174.20" stroke="#1a1a1a" stroke-width="0.95" fill="none"/>
<text class="s" font-size="10.7" transform="translate(178.93,77.00) scale(1.032,1)">Numerical</text>
<path d="M229.90,74.45H232.80" stroke="#1a1a1a" stroke-width="0.95" fill="none"/>
<text class="i s" font-size="10.7" transform="translate(237.87,77.00) scale(1.011,1)">M</text>
<text class="s" font-size="10.7" transform="translate(250.62,77.00) scale(1.555,1)">=</text>
<text class="s" font-size="10.7" transform="translate(262.36,77.00) scale(1.007,1)">10</text>
<text class="i s" font-size="10.7" transform="translate(273.29,77.00) scale(1.114,1)">M</text>
<text class="s" font-size="7.5" transform="translate(283.98,78.80) scale(1.034,1)">BH</text>
<text class="s" font-size="10.7" transform="translate(295.42,77.00) scale(0.837,1)">,</text>
<text class="i s" font-size="10.7" transform="translate(303.72,77.00) scale(1.052,1)">a</text>
<text class="s" font-size="7.5" transform="translate(309.24,78.80) scale(1.128,1)">0</text>
<text class="s" font-size="10.7" transform="translate(315.61,77.00) scale(1.575,1)">=</text>
<text class="s" font-size="10.7" transform="translate(327.98,77.00) scale(0.976,1)">10</text>
<text class="s" font-size="7.5" transform="translate(338.37,73.30) scale(1.138,1)">4</text>
<text class="i s" font-size="10.7" transform="translate(343.68,77.00) scale(1.073,1)">M</text>
<text class="s" font-size="7.5" transform="translate(353.98,78.80) scale(1.024,1)">BH</text>
<text class="s" font-size="10.7" transform="translate(122.22,96.50) scale(1.053,1)">Hernquist</text>
<path d="M171.10,93.95H174.20" stroke="#1a1a1a" stroke-width="0.95" fill="none"/>
<text class="s" font-size="10.7" transform="translate(179.10,96.50) scale(1.042,1)">Analytical</text>
<path d="M229.90,93.95H232.80" stroke="#1a1a1a" stroke-width="0.95" fill="none"/>
<text class="i s" font-size="10.7" transform="translate(237.87,96.50) scale(1.011,1)">M</text>
<text class="s" font-size="10.7" transform="translate(250.62,96.50) scale(1.555,1)">=</text>
<text class="s" font-size="10.7" transform="translate(262.36,96.50) scale(1.007,1)">10</text>
<text class="i s" font-size="10.7" transform="translate(273.29,96.50) scale(1.114,1)">M</text>
<text class="s" font-size="7.5" transform="translate(283.98,98.30) scale(1.034,1)">BH</text>
<text class="s" font-size="10.7" transform="translate(295.42,96.50) scale(0.837,1)">,</text>
<text class="i s" font-size="10.7" transform="translate(303.72,96.50) scale(1.052,1)">a</text>
<text class="s" font-size="7.5" transform="translate(309.24,98.30) scale(1.128,1)">0</text>
<text class="s" font-size="10.7" transform="translate(315.61,96.50) scale(1.575,1)">=</text>
<text class="s" font-size="10.7" transform="translate(327.98,96.50) scale(0.976,1)">10</text>
<text class="s" font-size="7.5" transform="translate(338.37,92.80) scale(1.138,1)">4</text>
<text class="i s" font-size="10.7" transform="translate(343.68,96.50) scale(1.073,1)">M</text>
<text class="s" font-size="7.5" transform="translate(353.98,98.30) scale(1.024,1)">BH</text>
<text font-size="18.4" transform="translate(119.43,304.90) scale(1.025,1)">10</text>
<text font-size="18.4" transform="translate(176.21,304.90) scale(1.036,1)">100</text>
<text font-size="18.4" transform="translate(233.00,304.90) scale(1.046,1)">1000</text>
<text font-size="18.4" transform="translate(300.74,305.00) scale(1.013,1)">10</text>
<text font-size="13.2" transform="translate(319.56,298.70) scale(1.180,1)">4</text>
<text font-size="18.4" transform="translate(362.64,305.00) scale(1.013,1)">10</text>
<text font-size="13.2" transform="translate(380.91,298.70) scale(1.275,1)">5</text>
<text font-size="18.4" transform="translate(424.39,305.00) scale(1.013,1)">10</text>
<text font-size="13.2" transform="translate(442.96,298.70) scale(1.187,1)">6</text>
<text font-size="18.4" transform="translate(486.14,305.00) scale(1.013,1)">10</text>
<text font-size="13.2" transform="translate(504.15,298.70) scale(1.275,1)">7</text>
<text font-size="18.4" transform="translate(36.02,21.50) scale(1.032,1)">1000</text>
<text font-size="18.4" transform="translate(44.89,47.33) scale(1.055,1)">500</text>
<text font-size="18.4" transform="translate(45.31,107.30) scale(1.040,1)">100</text>
<text font-size="18.4" transform="translate(54.91,133.13) scale(1.038,1)">50</text>
<text font-size="18.4" transform="translate(54.69,193.10) scale(1.050,1)">10</text>
<text font-size="18.4" transform="translate(64.18,218.93) scale(1.069,1)">5</text>
<text font-size="18.4" transform="translate(64.97,278.90) scale(0.855,1)">1</text>
<text class="i" font-size="25.5" transform="translate(272.20,337.20) scale(1.129,1)">r</text>
<text class="i" font-size="26.4" transform="translate(296.83,337.20) scale(1.041,1)">M</text>
<text font-size="17.2" transform="translate(320.66,340.90) scale(0.893,1)">BH</text>
<g transform="translate(23,169.5) rotate(-90)">
<text class="i" font-size="26.6" transform="translate(-0.46,0.00) scale(1.151,1)">m</text>
<text font-size="28.5" transform="translate(21.92,0.00) scale(0.986,1)">(</text>
<text class="i" font-size="26.6" transform="translate(30.15,0.00) scale(0.902,1)">r</text>
<text font-size="28.5" transform="translate(39.82,0.00) scale(1.096,1)">)</text>
</g>
<path d="M286.3,343 L295.7,318.2" stroke="#1a1a1a" stroke-width="1.3" fill="none"/></g>
</svg></body></html>
